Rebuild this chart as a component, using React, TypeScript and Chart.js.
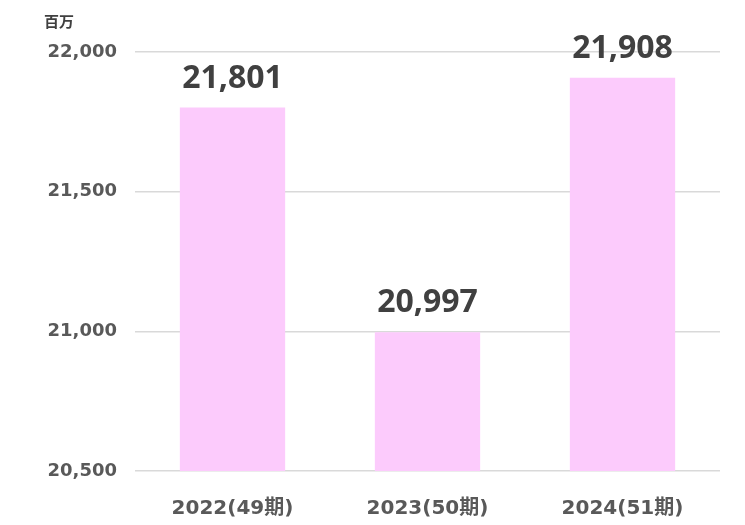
import { useEffect, useRef } from 'react';
import { Chart, registerables } from 'chart.js';

Chart.register(...registerables);

const categories = ['2022(49期)', '2023(50期)', '2024(51期)'];
const sales = [21801, 20997, 21908];
const unitLabel = '百万';

const fmt = (v: number) => v.toLocaleString('en-US');

const valueLabels = {
  id: 'valueLabels',
  afterDatasetsDraw(chart: Chart) {
    const { ctx } = chart;
    const meta = chart.getDatasetMeta(0);
    ctx.save();
    ctx.font = 'bold 32px "Noto Sans", sans-serif';
    ctx.fillStyle = '#404040';
    ctx.textAlign = 'center';
    ctx.textBaseline = 'alphabetic';
    meta.data.forEach((bar: any, i: number) => {
      ctx.fillText(fmt(sales[i]), bar.x, bar.y - 20);
    });
    // unit caption above the y axis
    ctx.font = 'bold 15px "Noto Sans CJK JP", sans-serif';
    ctx.fillStyle = '#404040';
    ctx.textAlign = 'left';
    ctx.fillText(unitLabel, chart.chartArea.left - 91, chart.chartArea.top - 25);
    ctx.restore();
  },
};

const App = () => {
  const chartRef = useRef<HTMLCanvasElement | null>(null);
  const chartInstance = useRef<Chart | null>(null);

  useEffect(() => {
    document.body.style.margin = '0';
    if (!chartRef.current) return;
    if (chartInstance.current) chartInstance.current.destroy();

    chartInstance.current = new Chart(chartRef.current, {
      type: 'bar',
      data: {
        labels: categories,
        datasets: [
          {
            data: sales,
            backgroundColor: '#fccbfc',
            borderWidth: 0,
            categoryPercentage: 1,
            barPercentage: 0.54,
          },
        ],
      },
      options: {
        animation: false,
        responsive: true,
        maintainAspectRatio: false,
        layout: { padding: { top: 52, right: 25, left: 0, bottom: 0 } },
        plugins: {
          legend: { display: false },
          tooltip: { enabled: false },
        },
        scales: {
          x: {
            grid: { display: false },
            border: { display: false },
            ticks: {
              color: '#595959',
              padding: 18,
              font: { family: '"DejaVu Sans", "Noto Sans CJK JP", sans-serif', size: 20, weight: 'bold' },
            },
            afterFit: (scale: any) => {
              scale.height = 54;
            },
          },
          y: {
            min: 20500,
            max: 22000,
            grid: { color: '#d9d9d9', lineWidth: 1.5, drawTicks: false },
            border: { display: false },
            ticks: {
              stepSize: 500,
              color: '#595959',
              padding: 18,
              font: { family: '"DejaVu Sans", sans-serif', size: 18, weight: 'bold' },
              callback: (v: any) => fmt(Number(v)),
            },
            afterFit: (scale: any) => {
              scale.width = 135;
            },
          },
        },
      },
      plugins: [valueLabels],
    });

    return () => {
      if (chartInstance.current) {
        chartInstance.current.destroy();
        chartInstance.current = null;
      }
    };
  }, []);

  return (
    <div style={{ position: 'relative', width: 745, height: 525 }}>
      <canvas ref={chartRef}></canvas>
    </div>
  );
};

export default App;
